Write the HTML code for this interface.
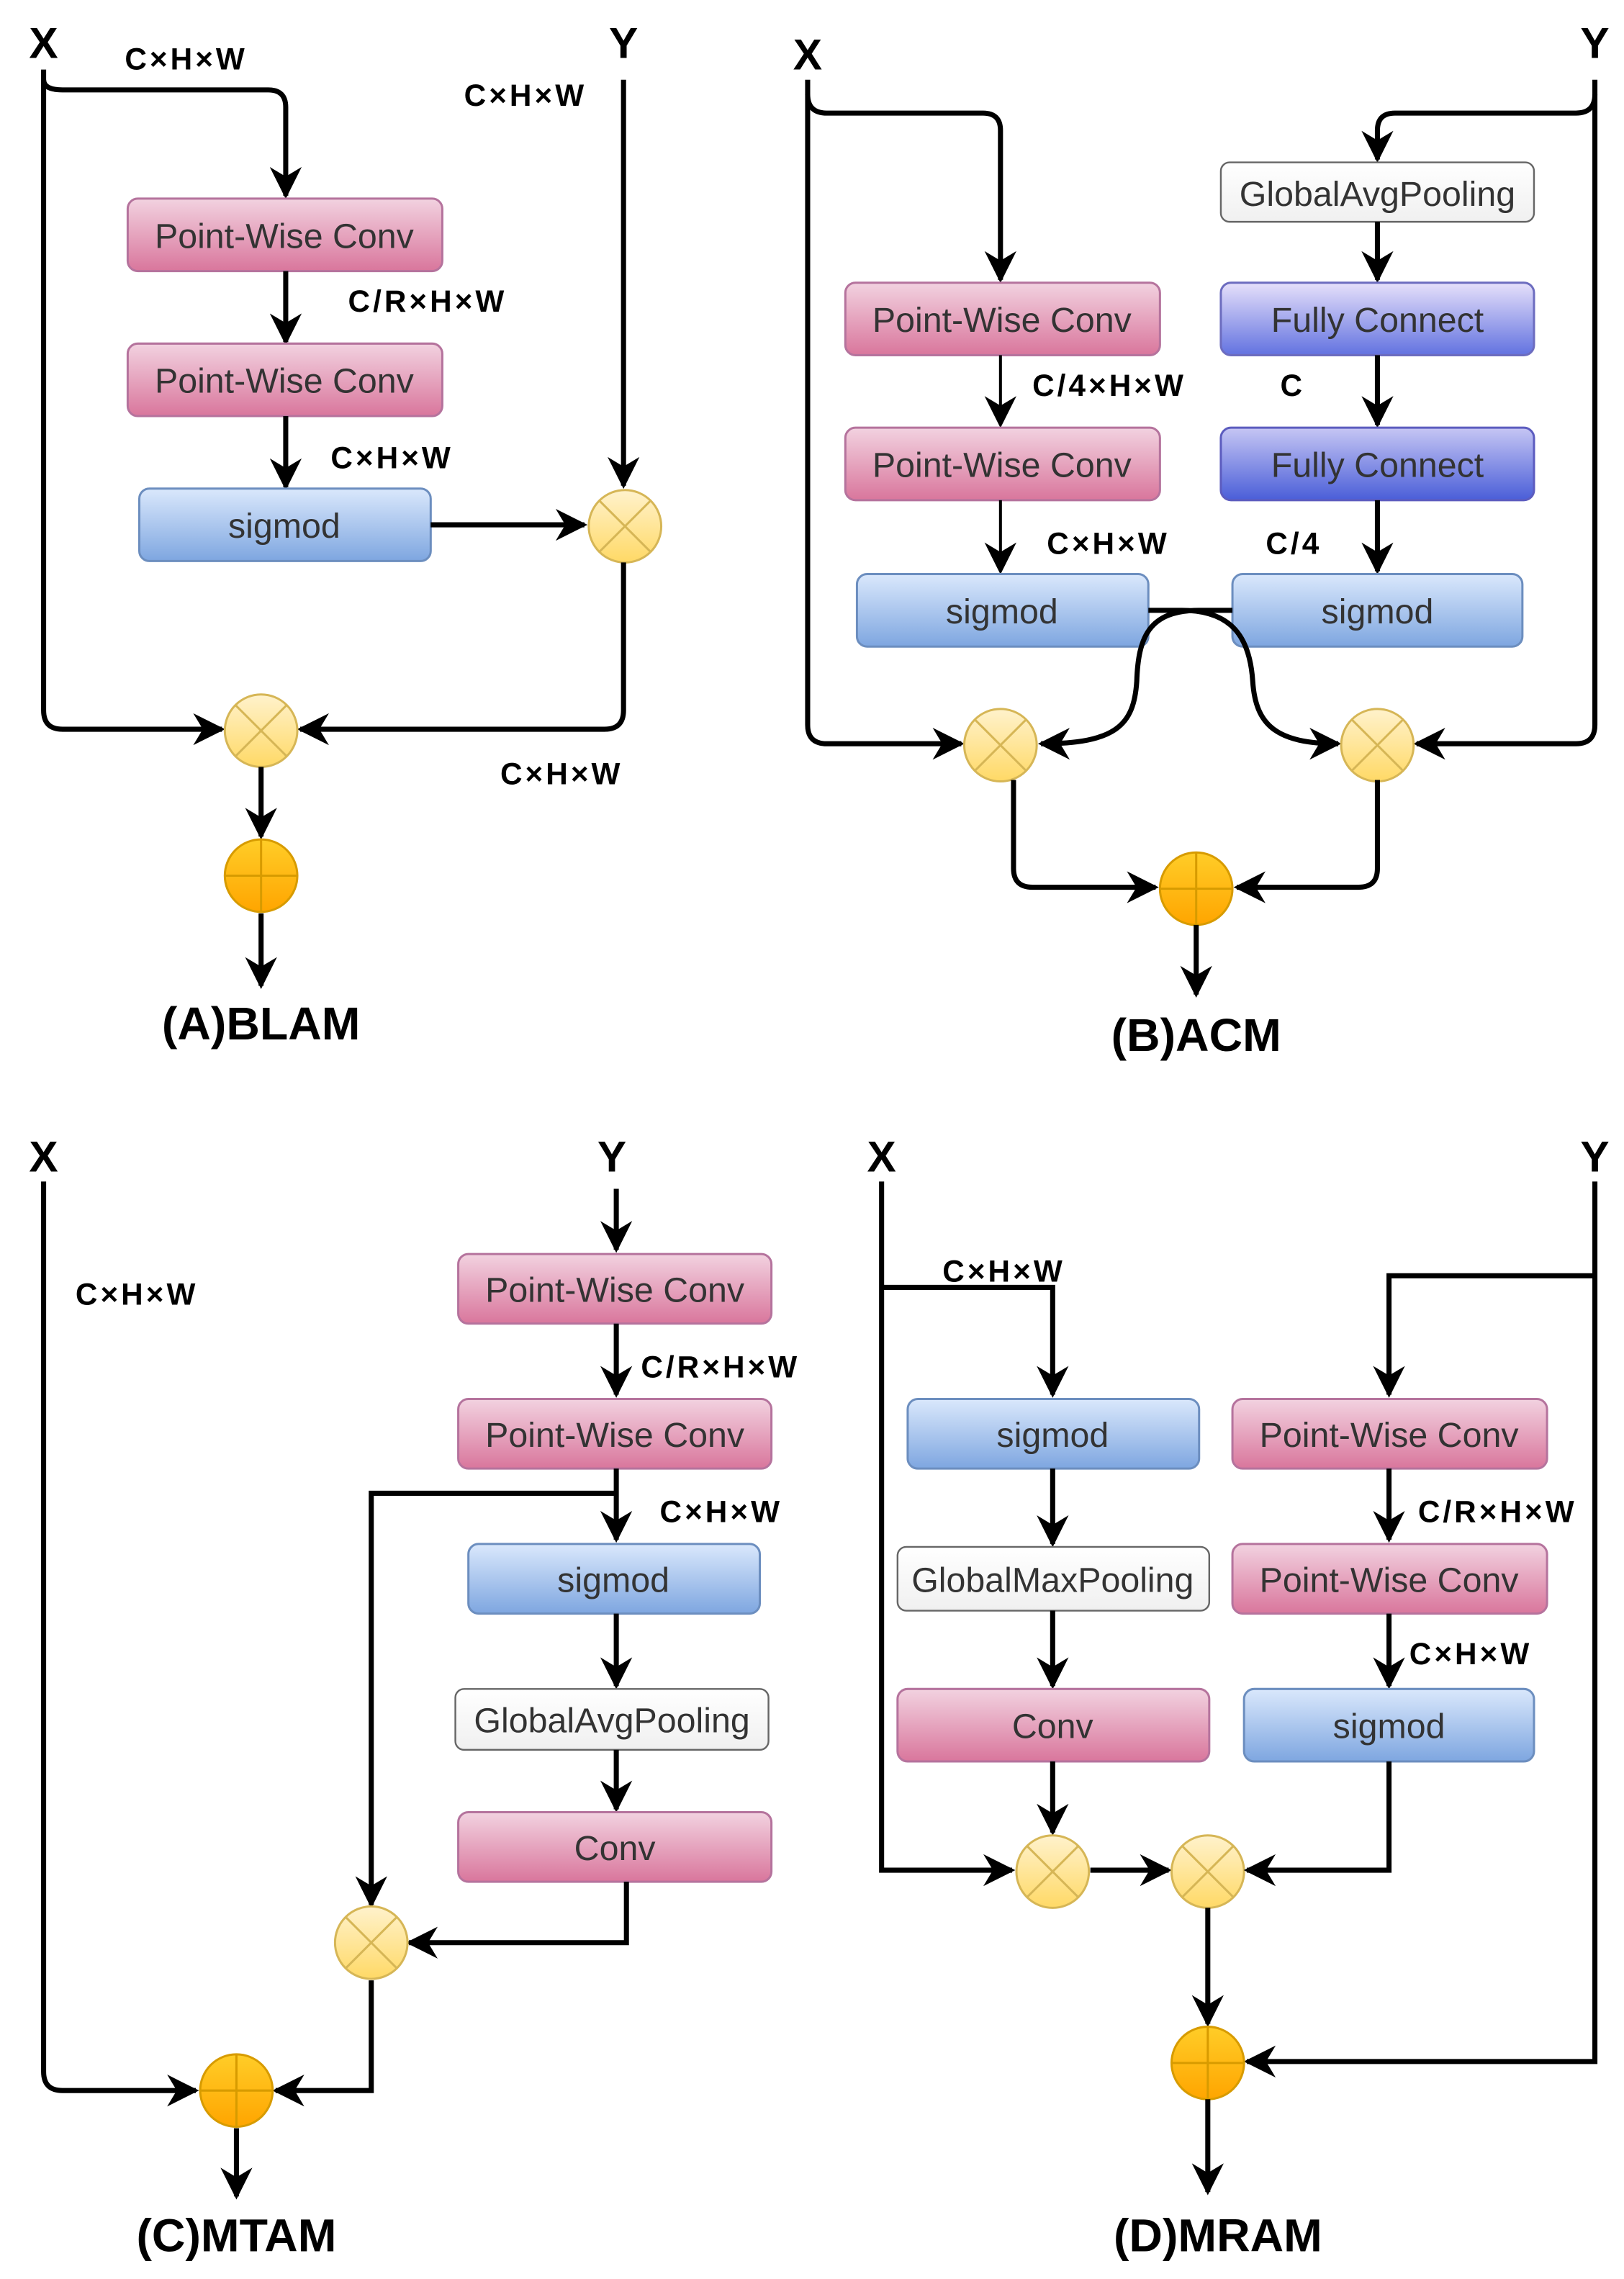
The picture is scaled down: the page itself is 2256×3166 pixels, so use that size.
<!DOCTYPE html>
<html><head><meta charset="utf-8"><style>
html,body{margin:0;padding:0;background:#fff;}
svg{display:block;}
.bx{font-family:"Liberation Sans",sans-serif;font-size:24px;fill:#333;text-anchor:middle;dominant-baseline:central;}
.lb{font-family:"Liberation Sans",sans-serif;font-size:21px;font-weight:bold;fill:#000;letter-spacing:2px;}
.xy{font-family:"Liberation Sans",sans-serif;font-size:30px;font-weight:bold;fill:#000;text-anchor:middle;}
.tt{font-family:"Liberation Sans",sans-serif;font-size:32px;font-weight:bold;fill:#000;text-anchor:middle;}
.ln{fill:none;stroke:#000;stroke-width:3.5;}
.th{fill:none;stroke:#000;stroke-width:2;}
</style></head><body>
<svg width="2256" height="3166" viewBox="0 0 1120 1572" xmlns="http://www.w3.org/2000/svg">
<defs>
<linearGradient id="pk" x1="0" y1="0" x2="0" y2="1"><stop offset="0" stop-color="#f2d2e0"/><stop offset="1" stop-color="#d9769c"/></linearGradient>
<linearGradient id="bl" x1="0" y1="0" x2="0" y2="1"><stop offset="0" stop-color="#dae8fc"/><stop offset="1" stop-color="#7ea6e0"/></linearGradient>
<linearGradient id="pu" x1="0" y1="0" x2="0" y2="1"><stop offset="0" stop-color="#e6e0fa"/><stop offset="1" stop-color="#6272e0"/></linearGradient>
<linearGradient id="pu2" x1="0" y1="0" x2="0" y2="1"><stop offset="0" stop-color="#c6c6f4"/><stop offset="1" stop-color="#4a5ed8"/></linearGradient>
<linearGradient id="wh" x1="0" y1="0" x2="0" y2="1"><stop offset="0" stop-color="#ffffff"/><stop offset="1" stop-color="#f0f0f0"/></linearGradient>
<linearGradient id="ye" x1="0" y1="0" x2="0" y2="1"><stop offset="0" stop-color="#fff2cc"/><stop offset="1" stop-color="#ffd966"/></linearGradient>
<linearGradient id="or" x1="0" y1="0" x2="0" y2="1"><stop offset="0" stop-color="#ffcd28"/><stop offset="1" stop-color="#ffa500"/></linearGradient>
<marker id="a" viewBox="0 0 10 10" refX="9" refY="5" markerWidth="22" markerHeight="22" markerUnits="userSpaceOnUse" orient="auto"><path d="M0,0 L10,5 L0,10 L3,5 z" fill="#000"/></marker>
<symbol id="mul" viewBox="-26 -26 52 52" overflow="visible"><ellipse cx="0" cy="0" rx="25" ry="25" fill="url(#ye)" stroke="#d6b656" stroke-width="1.5"/><path d="M-17.7,-17.7 L17.7,17.7 M17.7,-17.7 L-17.7,17.7" stroke="#d6b656" stroke-width="1.5"/></symbol>
<symbol id="add" viewBox="-26 -26 52 52" overflow="visible"><ellipse cx="0" cy="0" rx="25" ry="25" fill="url(#or)" stroke="#d79b00" stroke-width="1.5"/><path d="M-25,0 L25,0 M0,-25 L0,25" stroke="#d79b00" stroke-width="1.5"/></symbol>
</defs>

<!-- ===== Panel A ===== -->
<text class="xy" x="30" y="40">X</text>
<text class="xy" x="430" y="40">Y</text>
<text class="lb" x="86" y="48">C×H×W</text>
<text class="lb" x="320" y="73">C×H×W</text>
<text class="lb" x="240" y="215">C/R×H×W</text>
<text class="lb" x="228" y="323">C×H×W</text>
<text class="lb" x="345" y="541">C×H×W</text>
<path class="ln" d="M30,48 V490 Q30,503 43,503 H153" marker-end="url(#a)"/>
<path class="ln" d="M30,55 Q30,62 43,62 H185 Q197,62 197,74 V135" marker-end="url(#a)"/>
<rect x="88" y="137" width="217" height="50" rx="7" fill="url(#pk)" stroke="#b5739d" stroke-width="1.5"/><text class="bx" x="196" y="163">Point-Wise Conv</text>
<path class="ln" d="M197,187 V236" marker-end="url(#a)"/>
<rect x="88" y="237" width="217" height="50" rx="7" fill="url(#pk)" stroke="#b5739d" stroke-width="1.5"/><text class="bx" x="196" y="263">Point-Wise Conv</text>
<path class="ln" d="M197,287 V336" marker-end="url(#a)"/>
<rect x="96" y="337" width="201" height="50" rx="7" fill="url(#bl)" stroke="#6c8ebf" stroke-width="1.5"/><text class="bx" x="196" y="363">sigmod</text>
<path class="ln" d="M297,362 H403" marker-end="url(#a)"/>
<path class="ln" d="M430,55 V335" marker-end="url(#a)"/>
<use href="#mul" x="405" y="337" width="52" height="52"/>
<path class="ln" d="M430,388 V490 Q430,503 417,503 H207" marker-end="url(#a)"/>
<use href="#mul" x="154" y="478" width="52" height="52"/>
<path class="ln" d="M180,529 V577" marker-end="url(#a)"/>
<use href="#add" x="154" y="578" width="52" height="52"/>
<path class="ln" d="M180,630 V680" marker-end="url(#a)"/>
<text class="tt" x="180" y="717">(A)BLAM</text>

<!-- ===== Panel B ===== -->
<text class="xy" x="557" y="48">X</text>
<text class="xy" x="1100" y="40">Y</text>
<path class="ln" d="M557,55 V500 Q557,513 570,513 H663" marker-end="url(#a)"/>
<path class="ln" d="M557,65 Q557,78 570,78 H678 Q690,78 690,90 V193" marker-end="url(#a)"/>
<rect x="583" y="195" width="217" height="50" rx="7" fill="url(#pk)" stroke="#b5739d" stroke-width="1.5"/><text class="bx" x="691" y="221">Point-Wise Conv</text>
<path class="th" d="M690,245 V293" marker-end="url(#a)"/>
<rect x="583" y="295" width="217" height="50" rx="7" fill="url(#pk)" stroke="#b5739d" stroke-width="1.5"/><text class="bx" x="691" y="321">Point-Wise Conv</text>
<path class="th" d="M690,345 V394" marker-end="url(#a)"/>
<rect x="591" y="396" width="201" height="50" rx="7" fill="url(#bl)" stroke="#6c8ebf" stroke-width="1.5"/><text class="bx" x="691" y="422">sigmod</text>
<text class="lb" x="712" y="273">C/4×H×W</text>
<text class="lb" x="722" y="382">C×H×W</text>
<path class="ln" d="M1100,55 V500 Q1100,513 1087,513 H977" marker-end="url(#a)"/>
<path class="ln" d="M1100,65 Q1100,78 1087,78 H962 Q950,78 950,90 V110" marker-end="url(#a)"/>
<rect x="842" y="112" width="216" height="41" rx="6" fill="url(#wh)" stroke="#666" stroke-width="1.2"/><text class="bx" x="950" y="134">GlobalAvgPooling</text>
<path class="ln" d="M950,153 V193" marker-end="url(#a)"/>
<rect x="842" y="195" width="216" height="50" rx="7" fill="url(#pu)" stroke="#6c6cbf" stroke-width="1.5"/><text class="bx" x="950" y="221">Fully Connect</text>
<path class="ln" d="M950,245 V293" marker-end="url(#a)"/>
<rect x="842" y="295" width="216" height="50" rx="7" fill="url(#pu2)" stroke="#5c5cbf" stroke-width="1.5"/><text class="bx" x="950" y="321">Fully Connect</text>
<path class="ln" d="M950,345 V394" marker-end="url(#a)"/>
<rect x="850" y="396" width="200" height="50" rx="7" fill="url(#bl)" stroke="#6c8ebf" stroke-width="1.5"/><text class="bx" x="950" y="422">sigmod</text>
<text class="lb" x="883" y="273">C</text>
<text class="lb" x="873" y="382">C/4</text>
<path class="ln" d="M792,421 H815 C850,421 862,440 864,470 C866,500 880,513 923,513" marker-end="url(#a)"/>
<path class="ln" d="M850,421 H827 C792,421 785,440 784,470 C782,500 770,513 718,513" marker-end="url(#a)"/>
<use href="#mul" x="664" y="488" width="52" height="52"/>
<use href="#mul" x="924" y="488" width="52" height="52"/>
<path class="ln" d="M699,538 V599 Q699,612 712,612 H797" marker-end="url(#a)"/>
<path class="ln" d="M950,538 V599 Q950,612 937,612 H853" marker-end="url(#a)"/>
<use href="#add" x="799" y="587" width="52" height="52"/>
<path class="ln" d="M825,638 V686" marker-end="url(#a)"/>
<text class="tt" x="825" y="725">(B)ACM</text>

<!-- ===== Panel C ===== -->
<text class="xy" x="30" y="808">X</text>
<text class="xy" x="422" y="808">Y</text>
<text class="lb" x="52" y="900">C×H×W</text>
<path class="ln" d="M30,815 V1429 Q30,1442 43,1442 H135" marker-end="url(#a)"/>
<path class="ln" d="M425,820 V862" marker-end="url(#a)"/>
<rect x="316" y="865" width="216" height="48" rx="7" fill="url(#pk)" stroke="#b5739d" stroke-width="1.5"/><text class="bx" x="424" y="890">Point-Wise Conv</text>
<path class="ln" d="M425,913 V962" marker-end="url(#a)"/>
<text class="lb" x="442" y="950">C/R×H×W</text>
<rect x="316" y="965" width="216" height="48" rx="7" fill="url(#pk)" stroke="#b5739d" stroke-width="1.5"/><text class="bx" x="424" y="990">Point-Wise Conv</text>
<text class="lb" x="455" y="1050">C×H×W</text>
<path class="ln" d="M425,1013 V1062" marker-end="url(#a)"/>
<path class="ln" d="M425,1030 H256 V1314" marker-end="url(#a)"/>
<rect x="323" y="1065" width="201" height="48" rx="7" fill="url(#bl)" stroke="#6c8ebf" stroke-width="1.5"/><text class="bx" x="423" y="1090">sigmod</text>
<path class="ln" d="M425,1113 V1163" marker-end="url(#a)"/>
<rect x="314" y="1165" width="216" height="42" rx="6" fill="url(#wh)" stroke="#666" stroke-width="1.2"/><text class="bx" x="422" y="1187">GlobalAvgPooling</text>
<path class="ln" d="M425,1207 V1248" marker-end="url(#a)"/>
<rect x="316" y="1250" width="216" height="48" rx="7" fill="url(#pk)" stroke="#b5739d" stroke-width="1.5"/><text class="bx" x="424" y="1275">Conv</text>
<path class="ln" d="M432,1298 V1340 H282" marker-end="url(#a)"/>
<use href="#mul" x="230" y="1314" width="52" height="52"/>
<path class="ln" d="M256,1366 V1442 H190" marker-end="url(#a)"/>
<use href="#add" x="137" y="1416" width="52" height="52"/>
<path class="ln" d="M163,1468 V1515" marker-end="url(#a)"/>
<text class="tt" x="163" y="1553">(C)MTAM</text>

<!-- ===== Panel D ===== -->
<text class="xy" x="608" y="808">X</text>
<text class="xy" x="1100" y="808">Y</text>
<path class="ln" d="M608,815 V1290 H698" marker-end="url(#a)"/>
<path class="ln" d="M608,888 H726 V962" marker-end="url(#a)"/>
<text class="lb" x="650" y="884">C×H×W</text>
<rect x="626" y="965" width="201" height="48" rx="7" fill="url(#bl)" stroke="#6c8ebf" stroke-width="1.5"/><text class="bx" x="726" y="990">sigmod</text>
<path class="ln" d="M726,1013 V1065" marker-end="url(#a)"/>
<rect x="619" y="1067" width="215" height="44" rx="6" fill="url(#wh)" stroke="#666" stroke-width="1.2"/><text class="bx" x="726" y="1090">GlobalMaxPooling</text>
<path class="ln" d="M726,1111 V1163" marker-end="url(#a)"/>
<rect x="619" y="1165" width="215" height="50" rx="7" fill="url(#pk)" stroke="#b5739d" stroke-width="1.5"/><text class="bx" x="726" y="1191">Conv</text>
<path class="ln" d="M726,1215 V1264" marker-end="url(#a)"/>
<use href="#mul" x="700" y="1265" width="52" height="52"/>
<path class="ln" d="M752,1290 H806" marker-end="url(#a)"/>
<use href="#mul" x="807" y="1265" width="52" height="52"/>
<path class="ln" d="M1100,815 V1422 H860" marker-end="url(#a)"/>
<path class="ln" d="M1100,880 H958 V962" marker-end="url(#a)"/>
<rect x="850" y="965" width="217" height="48" rx="7" fill="url(#pk)" stroke="#b5739d" stroke-width="1.5"/><text class="bx" x="958" y="990">Point-Wise Conv</text>
<path class="ln" d="M958,1013 V1062" marker-end="url(#a)"/>
<text class="lb" x="978" y="1050">C/R×H×W</text>
<rect x="850" y="1065" width="217" height="48" rx="7" fill="url(#pk)" stroke="#b5739d" stroke-width="1.5"/><text class="bx" x="958" y="1090">Point-Wise Conv</text>
<path class="ln" d="M958,1113 V1163" marker-end="url(#a)"/>
<text class="lb" x="972" y="1148">C×H×W</text>
<rect x="858" y="1165" width="200" height="50" rx="7" fill="url(#bl)" stroke="#6c8ebf" stroke-width="1.5"/><text class="bx" x="958" y="1191">sigmod</text>
<path class="ln" d="M958,1215 V1290 H860" marker-end="url(#a)"/>
<path class="ln" d="M833,1316 V1396" marker-end="url(#a)"/>
<use href="#add" x="807" y="1397" width="52" height="52"/>
<path class="ln" d="M833,1448 V1512" marker-end="url(#a)"/>
<text class="tt" x="840" y="1553">(D)MRAM</text>
</svg>
</body></html>
